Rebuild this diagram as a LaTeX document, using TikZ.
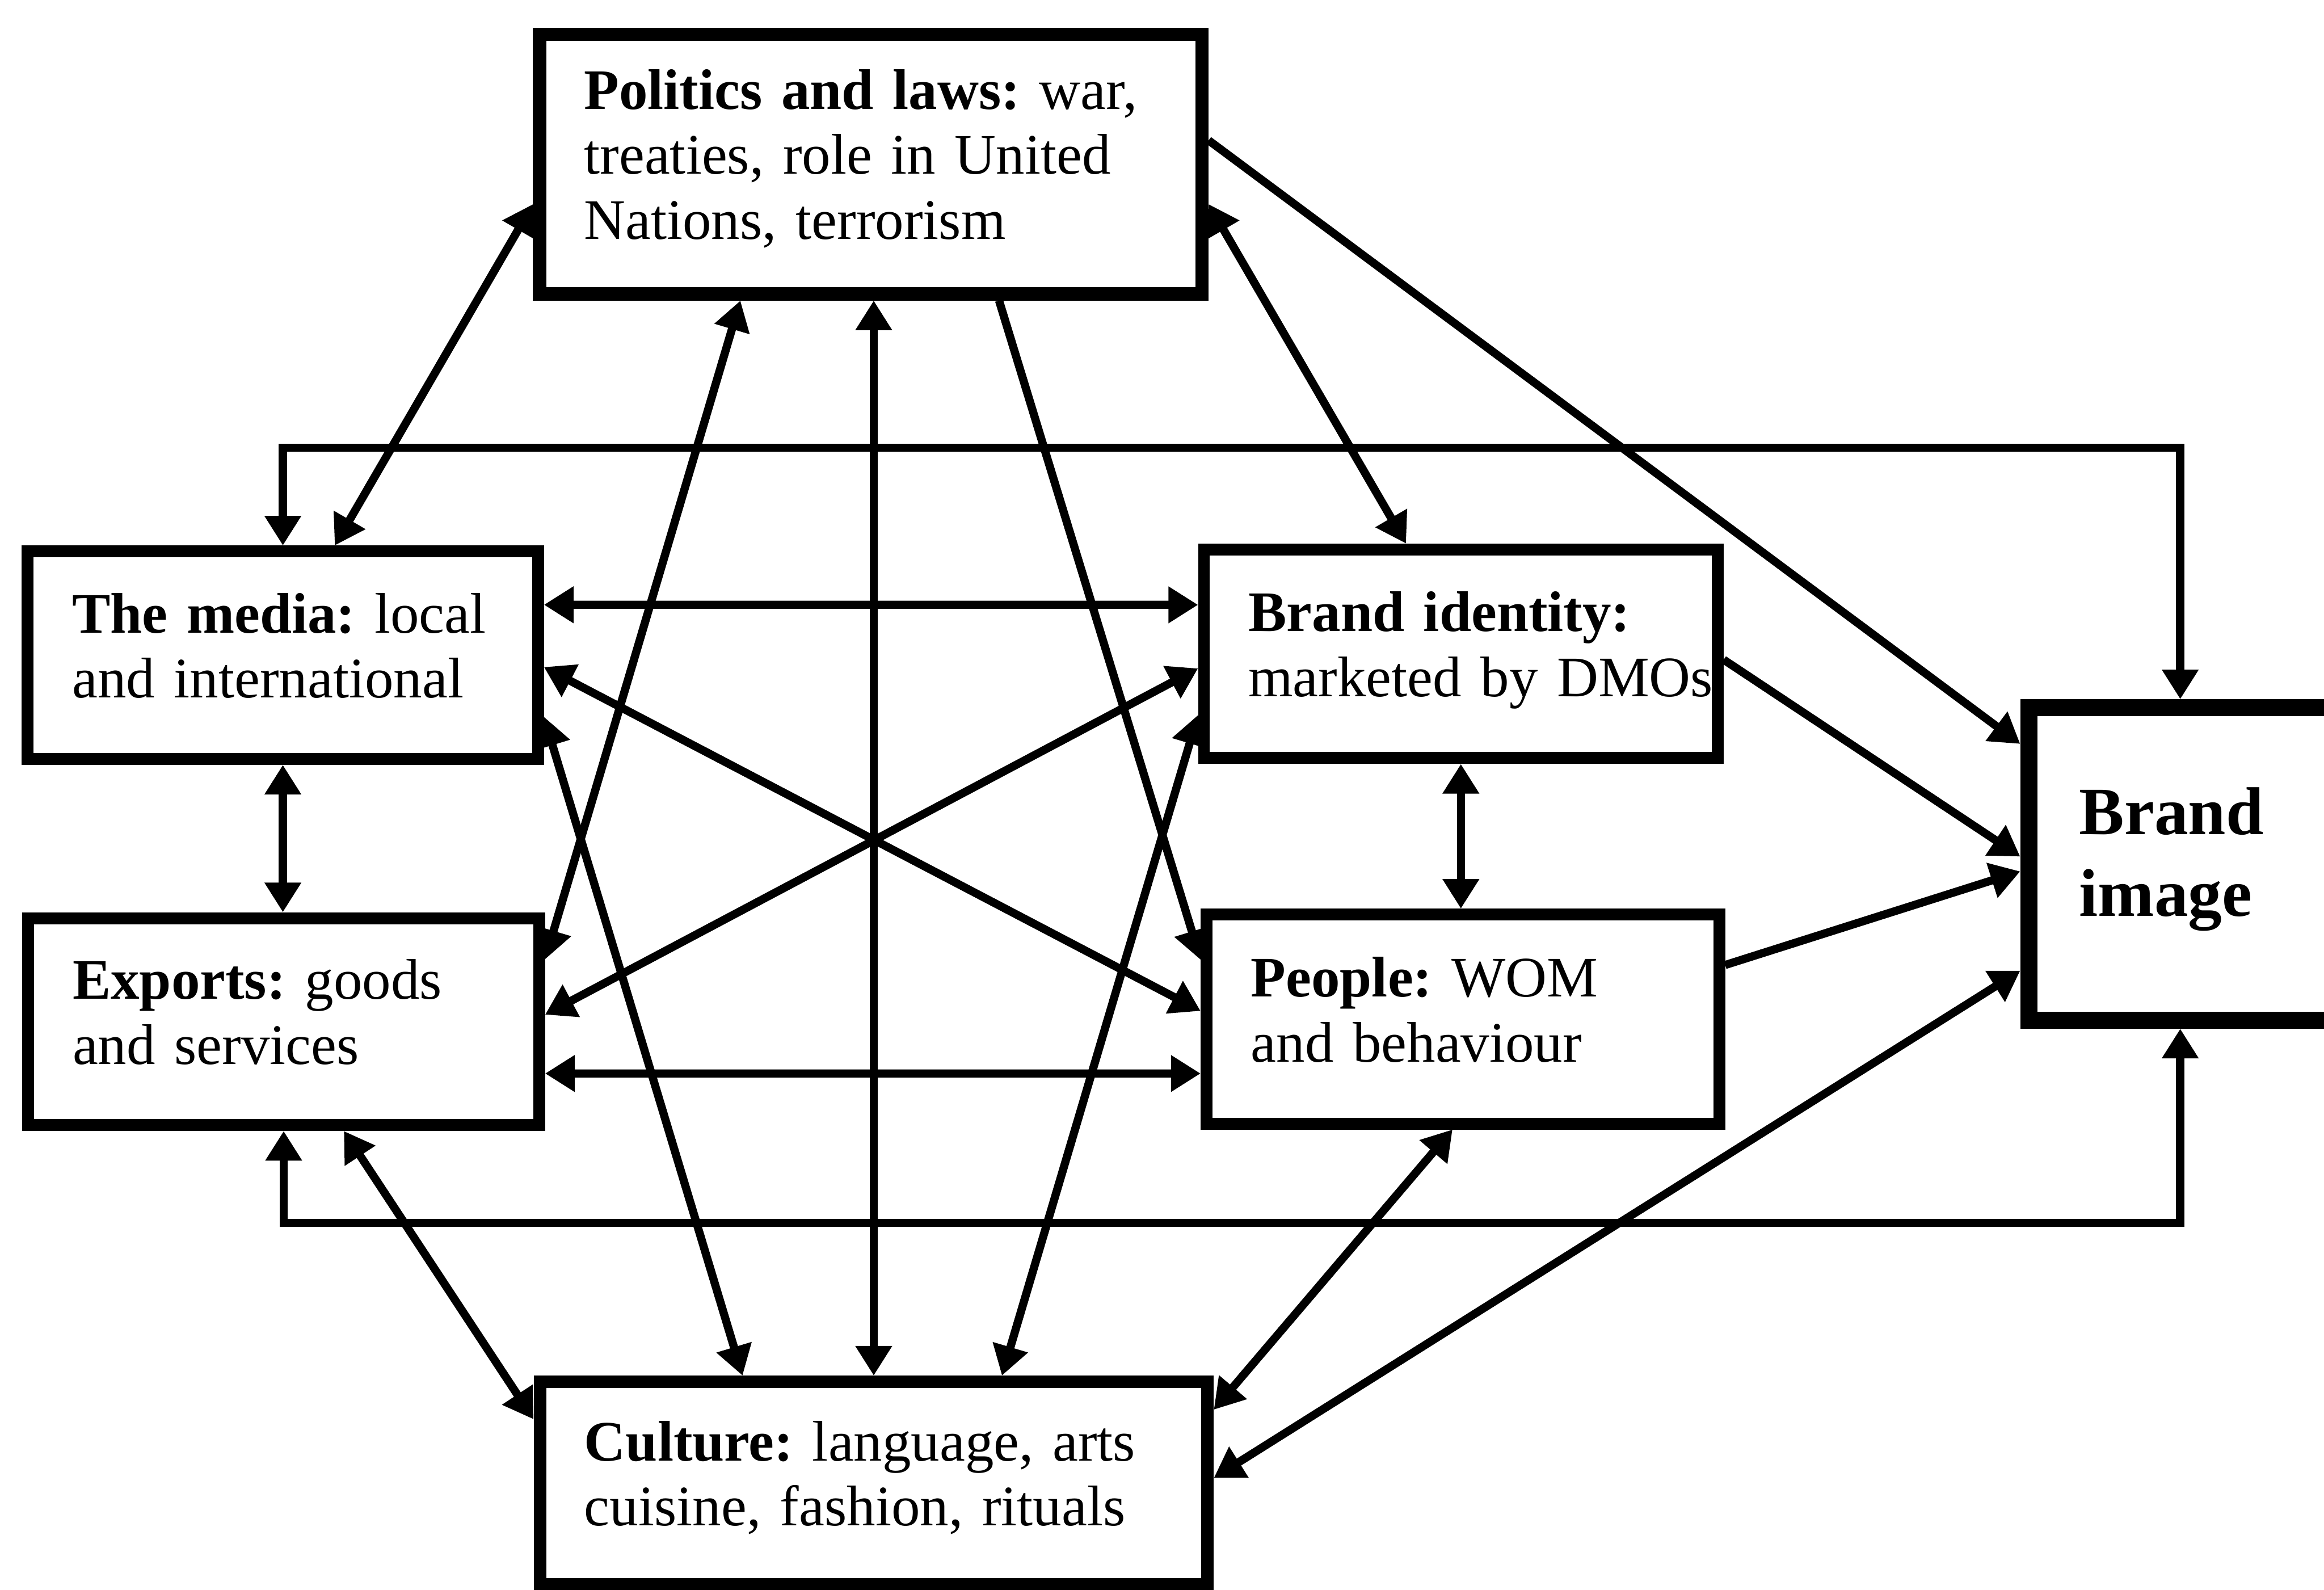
\documentclass[tikz,border=0pt]{standalone}
\usepackage{fontspec}
\setmainfont{Liberation Serif}
\usetikzlibrary{calc,arrows.meta}

\begin{document}
\frenchspacing
\begin{tikzpicture}[x=0.02cm,y=-0.02cm,
  >={Triangle[length=0.4cm,width=0.47cm]},
  box/.style={draw, rectangle, line width=0.16cm, inner xsep=0.6cm, inner ysep=0pt,
    align=left, font=\fontsize{22}{25}\selectfont,
    execute at begin node={\frenchspacing\hyphenpenalty=10000\exhyphenpenalty=10000},
    execute at end node=\strut},
  link/.style={line width=0.11cm},
]
\useasboundingbox (0,0) rectangle (1568,1072.52);
\clip (0,0) rectangle (1568,1072.52);

% the six factor boxes and the target box
\node[box, line width=0.18cm, minimum width=8.938cm, minimum height=3.504cm, text width=7.738cm]
  (P) at (587.55,110.7) {\textbf{Politics~and~laws:}~war,\\treaties,~role~in~United\\Nations,~terrorism};
\node[box, minimum width=6.886cm, minimum height=2.8cm, text width=5.686cm]
  (M) at (190.85,442) {\textbf{The~media:}~local\\and~international};
\node[box, minimum width=6.896cm, minimum height=2.792cm, text width=5.696cm]
  (E) at (191.4,689.2) {\textbf{Exports:}~goods\\and~services};
\node[box, minimum width=6.934cm, minimum height=2.814cm, text width=5.734cm]
  (BI) at (985.65,441.05) {\textbf{Brand~identity:}\\marketed~by~DMOs};
\node[box, minimum width=6.92cm, minimum height=2.82cm, text width=5.72cm]
  (PE) at (987,687.5) {\textbf{People:}~WOM\\and~behaviour};
\node[box, line width=0.17cm, minimum width=9.01cm, minimum height=2.73cm, text width=7.81cm]
  (C) at (589.5,1000.5) {\textbf{Culture:}~language,~arts\\cuisine,~fashion,~rituals};
\node[box, line width=0.23cm, inner xsep=0.68cm, minimum width=6.6cm, minimum height=4.216cm,
  text width=5.24cm, font=\fontsize{26}{31.3}\selectfont\bfseries]
  (BR) at (1533.75,582.85) {Brand\\image};

% links from politics
\draw[link,<->] ($(P.west)+(0,27)$) -- ($(M.north)+(35,0)$);
\draw[link,<->] ($(P.east)+(0,27)$) -- ($(BI.north)+(-37,0)$);
\draw[link,->] ($(P.east)+(0,-16)$) -- ($(BR.west)+(0,-81)$);
\draw[link,<->] ($(P.south)+(-88,0)$) -- ($(E.east)+(0,-42)$);
\draw[link,<->] (P.south -| C.north) -- (C.north);
\draw[link,->] ($(P.south)+(86.5,0)$) -- ($(PE.west)+(0,-40)$);

% links from culture
\draw[link,<->] ($(C.north)+(-88.5,0)$) -- ($(M.east)+(0,41.5)$);
\draw[link,<->] ($(C.north)+(86.5,0)$) -- ($(BI.west)+(0,41.25)$);
\draw[link,<->] ($(C.east)+(0,-3.5)$) -- ($(BR.west)+(0,72)$);
\draw[link,<->] ($(C.east)+(0,-49.5)$) -- ($(PE.south)+(-7,0)$);
\draw[link,<->] ($(E.south)+(40.6,0)$) -- ($(C.west)+(0,-43)$);

% links across the middle
\draw[link,<->] ($(M.east)+(0,-34)$) -- ($(BI.west)+(0,-33)$);
\draw[link,<->] ($(E.east)+(0,35)$) -- ($(PE.west)+(0,36.7)$);
\draw[link,<->] ($(M.east)+(0,8)$) -- ($(PE.west)+(0,-5.5)$);
\draw[link,<->] ($(E.east)+(0,-4.7)$) -- ($(BI.west)+(0,9.85)$);

% vertical pairs
\draw[link,<->] (M.south) -- (M.south |- E.north);
\draw[link,<->] (BI.south) -- (BI.south |- PE.north);

% loops round to the brand image
\draw[link,<->] (M.north) -- ++(0,-66) -| ($(BR.north)+(-62.75,0)$);
\draw[link,<->] (E.south) -- ++(0,62) -| ($(BR.south)+(-62.75,0)$);

% into the brand image
\draw[link,->] ($(BI.east)+(0,4)$) -- ($(BR.west)+(0,-5)$);
\draw[link,->] ($(PE.east)+(0,-36.5)$) -- ($(BR.west)+(0,5)$);
\end{tikzpicture}
\end{document}
